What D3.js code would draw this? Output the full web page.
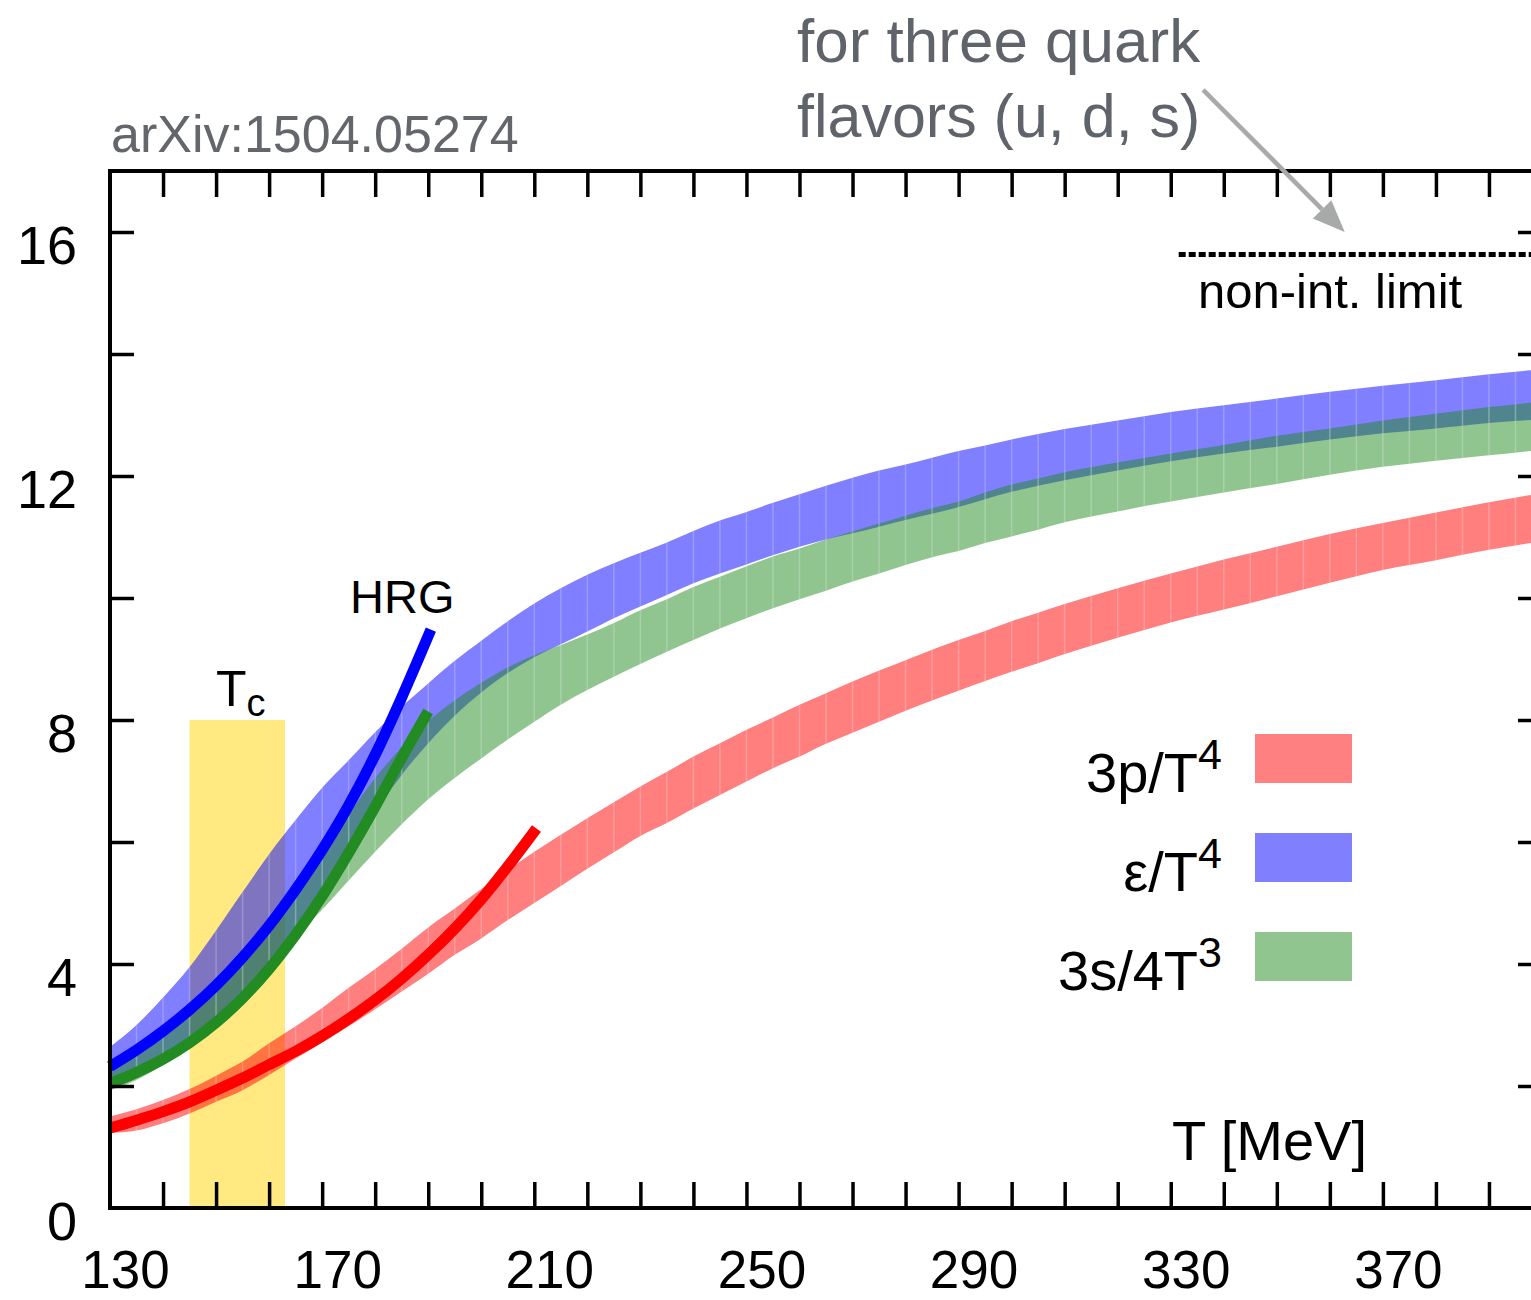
<!DOCTYPE html>
<html>
<head>
<meta charset="utf-8">
<script src="https://cdn.jsdelivr.net/npm/d3@7"></script>
<style>
  body { margin: 0; background: #fff; }
  svg { display: block; }
  text { font-family: "Liberation Sans", Arial, Helvetica, sans-serif; }
</style>
</head>
<body>
<svg id="chart" width="1531" height="1300"></svg>
<script>
// Temperatures (MeV) at which the lattice bands are tabulated
const bandT = [130,135,140,145,150,155,160,165,170,175,180,185,190,195,200,205,210,215,220,225,230,235,240,245,250,255,260,265,270,275,280,285,290,295,300,305,310,320,330,340,350,360,370,380,390,400];

// 3p/T^4 band
const pressureHi = [1.50,1.62,1.77,1.95,2.17,2.40,2.70,2.98,3.28,3.61,3.92,4.25,4.60,4.91,5.23,5.54,5.84,6.12,6.39,6.65,6.91,7.15,7.40,7.62,7.84,8.04,8.25,8.44,8.63,8.81,8.98,9.15,9.31,9.46,9.62,9.76,9.90,10.16,10.40,10.63,10.84,11.05,11.23,11.40,11.57,11.72];
const pressureLo = [1.23,1.27,1.39,1.55,1.74,1.93,2.18,2.45,2.71,2.98,3.26,3.55,3.84,4.15,4.42,4.72,5.00,5.28,5.56,5.83,6.10,6.31,6.55,6.77,6.99,7.21,7.40,7.61,7.79,7.97,8.15,8.32,8.48,8.64,8.79,8.93,9.08,9.35,9.60,9.81,10.03,10.25,10.46,10.62,10.79,10.93];

// ε/T^4 band
const energyHi = [2.64,3.00,3.45,3.95,4.55,5.18,5.80,6.36,6.89,7.34,7.80,8.22,8.60,8.97,9.30,9.62,9.91,10.16,10.38,10.57,10.74,10.91,11.10,11.27,11.41,11.56,11.70,11.84,11.97,12.09,12.19,12.30,12.41,12.50,12.60,12.69,12.77,12.91,13.05,13.16,13.27,13.38,13.48,13.57,13.67,13.75];
const energyLo = [2.09,2.28,2.51,2.81,3.12,3.52,4.00,4.55,5.16,5.82,6.50,7.10,7.62,8.07,8.45,8.77,9.03,9.24,9.45,9.67,9.86,10.05,10.24,10.40,10.55,10.70,10.84,10.96,11.06,11.17,11.28,11.38,11.49,11.62,11.74,11.84,11.93,12.09,12.24,12.37,12.48,12.60,12.70,12.78,12.87,12.93];

// 3s/4T^3 band
const entropyHi = [2.27,2.54,2.84,3.20,3.60,4.05,4.58,5.17,5.80,6.45,7.05,7.55,7.98,8.32,8.61,8.86,9.06,9.23,9.40,9.59,9.80,9.98,10.18,10.35,10.52,10.68,10.81,10.96,11.09,11.22,11.35,11.47,11.58,11.73,11.86,11.96,12.06,12.22,12.37,12.51,12.66,12.78,12.91,13.02,13.13,13.22];
const entropyLo = [1.93,2.10,2.36,2.72,3.14,3.57,3.98,4.45,4.89,5.37,5.84,6.29,6.70,7.05,7.37,7.68,7.97,8.25,8.49,8.71,8.92,9.12,9.31,9.50,9.67,9.83,9.98,10.12,10.27,10.40,10.54,10.67,10.77,10.90,11.01,11.12,11.24,11.42,11.58,11.73,11.87,12.02,12.15,12.25,12.34,12.43];

// Hadron resonance gas curves
const hrgEnergyT = [130,135,140,145,150,155,160,165,170,175,180,185,190.5];
const hrgEnergy = [2.32,2.59,2.90,3.25,3.65,4.11,4.63,5.22,5.87,6.60,7.43,8.37,9.48];
const hrgEntropyT = [130,135,140,145,150,155,160,165,170,175,180,185,190];
const hrgEntropy = [2.04,2.22,2.44,2.71,3.04,3.44,3.92,4.48,5.11,5.82,6.58,7.38,8.14];
const hrgPressureT = [130,135,140,145,150,155,160,165,170,175,180,185,190,195,200,205,210.4];
const hrgPressure = [1.31,1.44,1.58,1.74,1.93,2.13,2.35,2.57,2.82,3.10,3.41,3.76,4.15,4.58,5.06,5.60,6.22];

// Crossover temperature band and Stefan-Boltzmann limit
const tcRange = [145, 163];
const tcHeight = 8;
const sbLimit = 15.63;
const sbStart = 331.5;

// Axis ticks
const xLabelTicks = [130,170,210,250,290,330,370];
const yLabelTicks = [0,4,8,12,16];

// Legend
const legendLabels = ["3p/T", "ε/T", "3s/4T"];
const legendPowers = ["4", "4", "3"];
const legendColors = ["#ff8080", "#8080ff", "#90c590"];

const svg = d3.select("#chart");
const x = d3.scaleLinear().domain([130, 400]).range([110, 1542]);
const y = d3.scaleLinear().domain([0, 17]).range([1208, 171]);

const defs = svg.append("defs");
defs.append("clipPath").attr("id", "plotClip")
  .append("rect").attr("x", x(130)).attr("y", y(17)).attr("width", x(400) - x(130)).attr("height", y(0) - y(17));

// Tc band
svg.append("rect")
  .attr("x", x(tcRange[0])).attr("width", x(tcRange[1]) - x(tcRange[0]))
  .attr("y", y(tcHeight)).attr("height", y(0) - y(tcHeight))
  .attr("fill", "#ffe980");

// Lattice bands with seam lines every 5 MeV
const bands = [
  { id: "energy", hi: energyHi, lo: energyLo, color: "#0000ff" },
  { id: "entropy", hi: entropyHi, lo: entropyLo, color: "#228b22" },
  { id: "pressure", hi: pressureHi, lo: pressureLo, color: "#ff0000" }
];
const seamT = d3.range(135, 400, 5);
const plot = svg.append("g").attr("clip-path", "url(#plotClip)");
bands.forEach(b => {
  const rows = bandT.map((t, i) => ({ t, hi: b.hi[i], lo: b.lo[i] }));
  const area = d3.area().curve(d3.curveMonotoneX)
    .x(d => x(d.t)).y0(d => y(d.lo)).y1(d => y(d.hi));
  defs.append("clipPath").attr("id", "clip-" + b.id)
    .append("path").attr("d", area(rows));
  const g = plot.append("g");
  g.append("path").attr("d", area(rows)).attr("fill", b.color).attr("fill-opacity", 0.5);
  g.append("g").attr("clip-path", "url(#clip-" + b.id + ")")
    .selectAll("line").data(seamT).join("line")
    .attr("x1", d => x(d)).attr("x2", d => x(d))
    .attr("y1", y(17)).attr("y2", y(0))
    .attr("stroke", "#fff").attr("stroke-opacity", 0.22).attr("stroke-width", 1.5);
});

// HRG lines
const hrgLines = [
  { t: hrgEnergyT, v: hrgEnergy, color: "#0000ff" },
  { t: hrgEntropyT, v: hrgEntropy, color: "#228b22" },
  { t: hrgPressureT, v: hrgPressure, color: "#ff0000" }
];
const line = d3.line().curve(d3.curveMonotoneX).x(d => x(d[0])).y(d => y(d[1]));
hrgLines.forEach(h => {
  svg.append("path")
    .attr("d", line(h.t.map((t, i) => [t, h.v[i]])))
    .attr("fill", "none").attr("stroke", h.color)
    .attr("stroke-width", 11).attr("stroke-linecap", "butt").attr("stroke-linejoin", "round");
});

// Axes: inward ticks on all four sides
const minorX = d3.range(140, 400, 10);
const minorY = d3.range(2, 17, 2);
svg.append("g").attr("transform", `translate(0,${y(0)})`)
  .call(d3.axisBottom(x).tickValues(minorX).tickSize(-26).tickFormat(""))
  .call(g => g.select(".domain").remove());
svg.append("g").attr("transform", `translate(0,${y(17)})`)
  .call(d3.axisTop(x).tickValues(minorX).tickSize(-26).tickFormat(""))
  .call(g => g.select(".domain").remove());
svg.append("g").attr("transform", `translate(${x(130)},0)`)
  .call(d3.axisLeft(y).tickValues(minorY).tickSize(-24).tickFormat(""))
  .call(g => g.select(".domain").remove());
svg.append("g").attr("transform", `translate(${x(400)},0)`)
  .call(d3.axisRight(y).tickValues(minorY).tickSize(-24).tickFormat(""))
  .call(g => g.select(".domain").remove());
svg.selectAll(".tick line").attr("stroke", "#000").attr("stroke-width", 3.5);

// Tick labels
const xl = svg.append("g").attr("transform", `translate(0,${y(0)})`)
  .call(d3.axisBottom(x).tickValues(xLabelTicks).tickSize(0).tickFormat(d3.format("d")));
xl.select(".domain").remove();
xl.selectAll("text").attr("y", 80).attr("dy", 0).attr("dx", 15)
  .attr("font-size", 53).attr("font-family", "Liberation Sans, Arial, sans-serif").attr("fill", "#000");

const yl = svg.append("g").attr("transform", `translate(${x(130)},0)`)
  .call(d3.axisLeft(y).tickValues(yLabelTicks).tickSize(0).tickFormat(d3.format("d")));
yl.select(".domain").remove();
yl.selectAll("text").attr("x", -33).attr("dy", 0).attr("y", 31)
  .attr("font-size", 54).attr("font-family", "Liberation Sans, Arial, sans-serif").attr("fill", "#000");

// Frame
svg.append("rect")
  .attr("x", x(130)).attr("y", y(17)).attr("width", x(400) - x(130)).attr("height", y(0) - y(17))
  .attr("fill", "none").attr("stroke", "#000").attr("stroke-width", 4);

// Stefan-Boltzmann limit
svg.append("line")
  .attr("x1", x(sbStart)).attr("x2", x(400)).attr("y1", y(sbLimit)).attr("y2", y(sbLimit))
  .attr("stroke", "#000").attr("stroke-width", 5).attr("stroke-dasharray", "7,3");
svg.append("text").attr("x", 1198).attr("y", 308).attr("font-size", 49).text("non-int. limit");

// Annotation with arrow
const tip = [x(362.8), y(16.0)];
const tail = [x(336.1), y(18.33)];
const ang = Math.atan2(tip[1] - tail[1], tip[0] - tail[0]);
const headLen = 32, headHalf = 13;
const base = [tip[0] - headLen * Math.cos(ang), tip[1] - headLen * Math.sin(ang)];
svg.append("line")
  .attr("x1", tail[0]).attr("y1", tail[1]).attr("x2", base[0]).attr("y2", base[1])
  .attr("stroke", "#a8aaa9").attr("stroke-width", 4.5);
svg.append("path")
  .attr("d", d3.line()([
    tip,
    [base[0] + headHalf * Math.sin(ang), base[1] - headHalf * Math.cos(ang)],
    [base[0] - headHalf * Math.sin(ang), base[1] + headHalf * Math.cos(ang)]
  ]) + "Z")
  .attr("fill", "#a8aaa9");
svg.append("text").attr("x", 797).attr("y", 62).attr("font-size", 62).attr("fill", "#5f636a").text("for three quark");
svg.append("text").attr("x", 797).attr("y", 137).attr("font-size", 61).attr("fill", "#5f636a").text("flavors (u, d, s)");
svg.append("text").attr("x", 111).attr("y", 152).attr("font-size", 52).attr("fill", "#63666b").text("arXiv:1504.05274");

// Labels inside the plot
svg.append("text").attr("x", 350).attr("y", 613).attr("font-size", 47).text("HRG");
const tcText = svg.append("text").attr("x", 216).attr("y", 706).attr("font-size", 50);
tcText.append("tspan").text("T");
tcText.append("tspan").attr("dy", 10).attr("font-size", 38).text("c");
svg.append("text").attr("x", 1367).attr("y", 1160).attr("text-anchor", "end").attr("font-size", 56).text("T [MeV]");

// Legend
const legend = svg.append("g");
legendLabels.forEach((lab, i) => {
  const yy = 792 + i * 99;
  const t = legend.append("text").attr("x", 1222).attr("y", yy).attr("text-anchor", "end").attr("font-size", 56);
  t.append("tspan").text(lab);
  t.append("tspan").attr("dy", -23).attr("font-size", 43).text(legendPowers[i]);
  legend.append("rect").attr("x", 1255).attr("y", yy - 58).attr("width", 97).attr("height", 49)
    .attr("fill", legendColors[i]);
});
</script>
</body>
</html>
